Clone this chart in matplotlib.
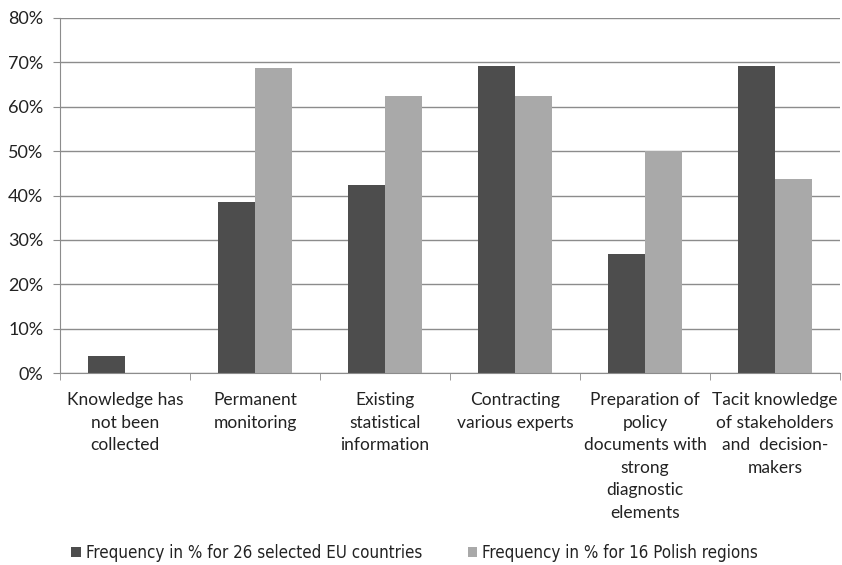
import matplotlib
matplotlib.use("Agg")
import matplotlib.pyplot as plt
import numpy as np
from matplotlib.ticker import FixedLocator, FuncFormatter
from matplotlib import font_manager

categories = [
    "Knowledge has\nnot been\ncollected",
    "Permanent\nmonitoring",
    "Existing\nstatistical\ninformation",
    "Contracting\nvarious experts",
    "Preparation of\npolicy\ndocuments with\nstrong\ndiagnostic\nelements",
    "Tacit knowledge\nof stakeholders\nand  decision-\nmakers",
]
eu_values = [3.8, 38.5, 42.3, 69.2, 26.9, 69.2]
pl_values = [0.0, 68.75, 62.5, 62.5, 50.0, 43.75]
series_names = ["Frequency in % for 26 selected EU countries",
                "Frequency in % for 16 Polish regions"]
yticks = [0, 10, 20, 30, 40, 50, 60, 70, 80]

plt.rcParams['font.family'] = ['Lato', 'DejaVu Sans']

# look for a condensed face for the legend (Calibri-like narrow text)
cond = None
for f in font_manager.fontManager.ttflist:
    fn = f.fname.lower()
    if ('condensed' in fn or 'narrow' in fn) and 'bold' not in fn and 'oblique' not in fn and 'italic' not in fn:
        cond = f.fname
        break
if cond:
    leg_prop = font_manager.FontProperties(fname=cond, size=12.2)
else:
    leg_prop = font_manager.FontProperties(family='Lato', size=10)

fig = plt.figure(figsize=(8.42, 5.65), dpi=100)
ax = fig.add_axes([60/842, 1-373/565, (840-60)/842, (373-18)/565])

x = np.arange(len(categories))
w = 0.285
ax.bar(x - w/2, eu_values, width=w, color="#4d4d4d", zorder=3, label=series_names[0])
ax.bar(x + w/2, pl_values, width=w, color="#a9a9a9", zorder=3, label=series_names[1])

ax.set_xlim(-0.5, len(categories) - 0.5)
ax.set_ylim(0, 80)
ax.set_yticks(yticks)
ax.yaxis.set_major_formatter(FuncFormatter(lambda v, p: f"{int(v)}%"))
ax.grid(axis='y', color="#8c8c8c", linewidth=1.0, zorder=0)

ax.set_xticks(x)
ax.set_xticklabels(categories, fontsize=12.5, color="#222222", linespacing=1.5, va='top')
ax.xaxis.set_minor_locator(FixedLocator(np.arange(-0.5, len(categories), 1.0)))
ax.tick_params(axis='x', which='major', length=0, pad=14)
ax.tick_params(axis='x', which='minor', length=5, color="#8c8c8c")
ax.tick_params(axis='y', length=5, color="#8c8c8c", labelsize=13, labelcolor="#222222", pad=7)

for s in ['top', 'right']:
    ax.spines[s].set_visible(False)
for s in ['left', 'bottom']:
    ax.spines[s].set_color("#8c8c8c")
    ax.spines[s].set_zorder(4)

leg = fig.legend(loc='center left', bbox_to_anchor=(56/842, 1-553/565), ncol=2, frameon=False,
                 prop=leg_prop, handlelength=0.55, handleheight=0.55,
                 handletextpad=0.3, columnspacing=2.7, labelcolor="#222222")

fig.savefig("out.png", dpi=100, facecolor="white")
